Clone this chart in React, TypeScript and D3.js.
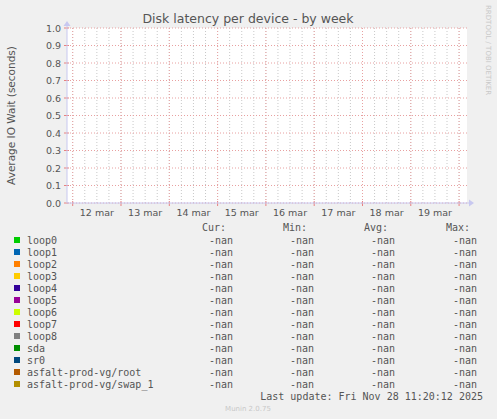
import * as d3 from 'd3';

const W = 497;
const H = 419;

// time window of the weekly graph (UTC)
const startTime = new Date(Date.UTC(2025, 2, 11, 21, 10));
const endTime = new Date(Date.UTC(2025, 2, 20, 3, 56));
const dayLabels = ['12 mar', '13 mar', '14 mar', '15 mar', '16 mar', '17 mar', '18 mar', '19 mar'];
const yTicks = [0, 0.1, 0.2, 0.3, 0.4, 0.5, 0.6, 0.7, 0.8, 0.9, 1.0];

const series = [
  'loop0', 'loop1', 'loop2', 'loop3', 'loop4', 'loop5', 'loop6', 'loop7', 'loop8',
  'sda', 'sr0', 'asfalt-prod-vg/root', 'asfalt-prod-vg/swap_1',
];
const seriesColors = [
  '#00cc00', '#0066b3', '#ff8000', '#ffcc00', '#330099', '#990099', '#ccff00', '#ff0000', '#808080',
  '#008f00', '#00487d', '#b35a00', '#b38f00',
];
const columns = ['Cur:', 'Min:', 'Avg:', 'Max:'];
// no data in the period, every value reads -nan
const curValues = series.map(() => '-nan');
const minValues = series.map(() => '-nan');
const avgValues = series.map(() => '-nan');
const maxValues = series.map(() => '-nan');

export default function App() {
  const margin = { top: 28, left: 67, right: 30, bottom: 216 };
  const x = d3.scaleUtc().domain([startTime, endTime]).range([margin.left, W - margin.right]);
  const y = d3.scaleLinear().domain([0, 1]).range([H - margin.bottom, margin.top]);

  const x0 = x.range()[0];
  const x1 = x.range()[1];
  const y0 = y(0);
  const y1 = y(1);

  const minor = d3.utcHour.every(6)!.range(startTime, endTime);
  const major = d3.utcDay.range(startTime, endTime);
  const noons = major.map(d => d3.utcHour.offset(d, 12));

  const axisFont = 'DejaVu Sans, sans-serif';
  const mono = 'DejaVu Sans Mono, monospace';
  const colRight = [233, 314, 395, 477];
  const headRight = [226, 307, 388, 470];
  const values = [curValues, minValues, avgValues, maxValues];
  const rowY = (i: number) => 240 + i * 12;

  return (
    <svg width={W} height={H} style={{ display: 'block', position: 'absolute', left: 0, top: 0 }}>
      <rect width={W} height={H} fill="#f0f0f0" />
      <rect x={x0} y={y1} width={x1 - x0} height={y0 - y1} fill="#ffffff" />

      {/* minor grid */}
      {minor.map((d, i) => (
        <line key={'mi' + i} x1={x(d)} x2={x(d)} y1={y1} y2={y0}
          stroke="#c8c8c8" strokeWidth={1} strokeDasharray="1,2" />
      ))}
      {/* major grid */}
      {major.map((d, i) => (
        <g key={'ma' + i}>
          <line x1={x(d)} x2={x(d)} y1={y1} y2={y0}
            stroke="#e8a0a0" strokeWidth={1} strokeDasharray="1,2" />
          <line x1={x(d)} x2={x(d)} y1={y0 - 2} y2={y0 + 3} stroke="#e88080" strokeWidth={1} />
        </g>
      ))}
      {yTicks.map((t, i) => (
        <g key={'y' + i}>
          <line x1={x0} x2={x1} y1={y(t)} y2={y(t)}
            stroke="#e8a0a0" strokeWidth={1} strokeDasharray="1,2" />
          <line x1={x0 - 3} x2={x0 + 2} y1={y(t)} y2={y(t)} stroke="#e88080" strokeWidth={1} />
          <text x={61} y={y(t) + 3.5} textAnchor="end" fontFamily={axisFont} fontSize={9.5} fill="#555">
            {t.toFixed(1)}
          </text>
        </g>
      ))}

      {/* axes with arrows */}
      <line x1={x0} x2={x1 + 3} y1={y0} y2={y0} stroke="#c8c8f0" strokeWidth={1} />
      <path d={`M${x1 + 7},${y0} L${x1 + 2},${y0 - 3.5} L${x1 + 2},${y0 + 3.5} Z`} fill="#c8c8f0" />
      <line x1={x0} x2={x0} y1={y0} y2={y1 - 3} stroke="#c8c8f0" strokeWidth={1} />
      <path d={`M${x0},${y1 - 7} L${x0 - 3.5},${y1 - 2} L${x0 + 3.5},${y1 - 2} Z`} fill="#c8c8f0" />

      {noons.map((d, i) => (
        <text key={'xl' + i} x={x(d)} y={216} textAnchor="middle" fontFamily={axisFont} fontSize={9.5} fill="#555">
          {dayLabels[i]}
        </text>
      ))}

      <text x={248} y={23} textAnchor="middle" fontFamily={axisFont} fontSize={12.5} fill="#555">
        Disk latency per device - by week
      </text>
      <text transform={`translate(15,${(y0 + y1) / 2}) rotate(-90)`} textAnchor="middle"
        fontFamily={axisFont} fontSize={10.5} fill="#555">
        Average IO Wait (seconds)
      </text>
      <text transform="translate(486,5) rotate(90)" textAnchor="start"
        fontFamily={axisFont} fontSize={7} fill="#c8c8c8">
        RRDTOOL / TOBI OETIKER
      </text>

      {/* legend */}
      {columns.map((c, j) => (
        <text key={'h' + j} x={headRight[j]} y={231} textAnchor="end" fontFamily={mono} fontSize={10} fill="#555">
          {c}
        </text>
      ))}
      {series.map((s, i) => (
        <g key={'s' + i}>
          <rect x={14} y={rowY(i) - 3} width={6} height={6} fill={seriesColors[i]} />
          <text x={27} y={rowY(i) + 3.5} fontFamily={mono} fontSize={10} fill="#555">{s}</text>
          {values.map((v, j) => (
            <text key={j} x={colRight[j]} y={rowY(i) + 3.5} textAnchor="end" fontFamily={mono} fontSize={10} fill="#555">
              {v[i]}
            </text>
          ))}
        </g>
      ))}
      <text x={483} y={400} textAnchor="end" fontFamily={mono} fontSize={10} fill="#555">
        Last update: Fri Nov 28 11:20:12 2025
      </text>
      <text x={248} y={411} textAnchor="middle" fontFamily={axisFont} fontSize={7} fill="#c8c8c8">
        Munin 2.0.75
      </text>
    </svg>
  );
}
